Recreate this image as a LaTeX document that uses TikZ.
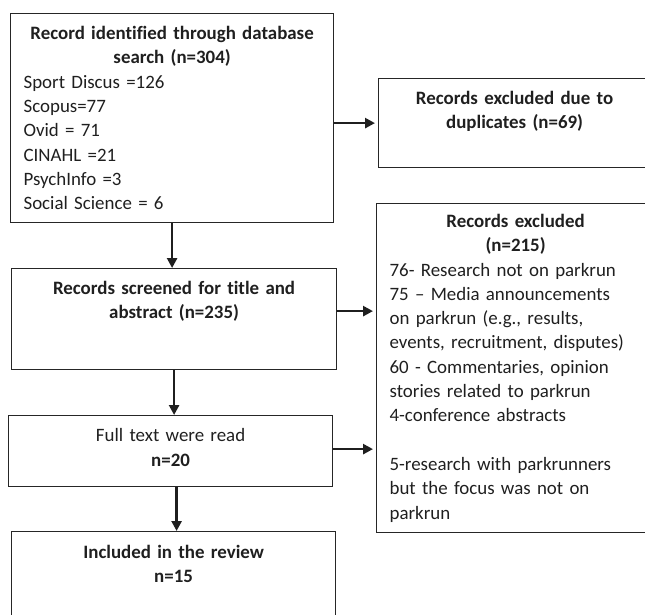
\documentclass[tikz,border=0pt]{standalone}
\usepackage{fontspec}
\setmainfont[Ligatures=NoCommon]{Carlito}
\usetikzlibrary{arrows.meta}
\setlength{\parindent}{0pt}

\begin{document}
\begin{tikzpicture}[x=1pt,y=-1pt,
  box/.style={draw=black!85,line width=1.2pt,anchor=north west,inner xsep=13pt,inner ysep=0pt,
    font=\fontsize{18.9}{24.3}\selectfont,text=black!88},
  arr/.style={-{Triangle[length=10pt,width=10pt]},line width=2.7pt,draw=black!88,shorten >=3pt}]
 % \draw[help lines,step=50] (0,0) grid (645,614);
  \clip (0,0) rectangle (645,614);
  \node[box,minimum width=323pt,minimum height=209pt,text width=297pt] (id) at (10,13)
    {{\centering\bfseries Record identified through database\\ search (n=304)\par}
     \raggedright Sport Discus =126\\ Scopus=77\\ Ovid = 71\\ CINAHL =21\\ PsychInfo =3\\ Social Science = 6};
  \node[box,minimum width=272pt,minimum height=89pt,text width=246pt] (dup) at (378,78)
    {{\centering\bfseries Records excluded due to\\ duplicates (n=69)\par}\vspace{24pt}};
  \node[box,minimum width=325pt,minimum height=101pt,text width=299pt] (scr) at (11,268)
    {{\centering\bfseries Records screened for title and\\ abstract (n=235)\par}\vspace{36pt}};
  \node[box,minimum width=278pt,minimum height=329pt,text width=252pt] (ex) at (376,203)
    {{\centering\bfseries Records excluded\\ (n=215)\par}
     \raggedright 76- Research not on parkrun\\ 75 -- Media announcements\\ on parkrun (e.g., results,\\
     events, recruitment, disputes)\\ 60 - Commentaries, opinion\\ stories related to parkrun\\
     4-conference abstracts\par\vspace{\baselineskip}
     5-research with parkrunners\\ but the focus was not on\\ parkrun};
  \node[box,minimum width=324pt,minimum height=71pt,text width=298pt] (full) at (8,415)
    {{\centering Full text were read\\ \textbf{n=20}\par}\vspace{7pt}};
  \node[box,minimum width=324pt,minimum height=100pt,text width=298pt] (inc) at (11,531)
    {{\centering\bfseries Included in the review\\ n=15\par}\vspace{35pt}};
  \draw[arr] (id.east |- dup.west) -- (dup.west);
  \draw[arr] ([yshift=8pt]scr.east) -- ([yshift=8pt]scr.east -| ex.west);
  \draw[arr] ([yshift=2pt]full.east) -- ([yshift=2pt]full.east -| ex.west);
  \draw[arr,shorten >=0pt] (id.south) -- (id.south |- scr.north);
  \draw[arr,shorten >=0pt] (scr.south) -- (scr.south |- full.north);
  \draw[arr,shorten >=0pt] ([xshift=3pt]inc.north |- full.south) -- ([xshift=3pt]inc.north);
\end{tikzpicture}
\end{document}
